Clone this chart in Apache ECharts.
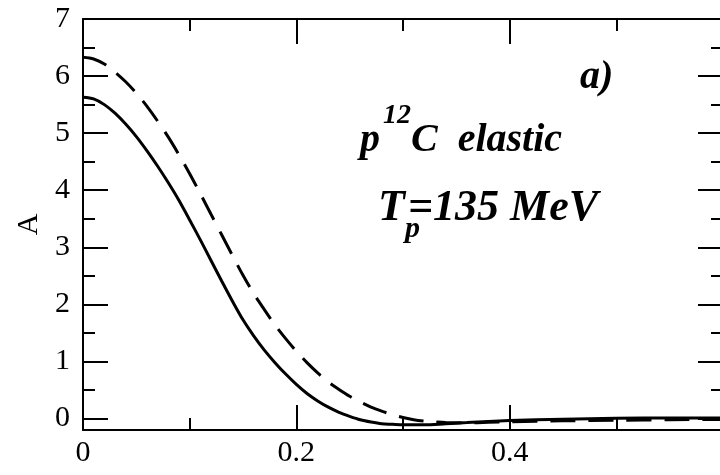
<!DOCTYPE html>
<html>
<head>
<meta charset="utf-8">
<script src="https://cdn.jsdelivr.net/npm/echarts@6/dist/echarts.min.js"></script>
<style>
  html, body { margin: 0; padding: 0; background: #fff; }
  #chart { width: 720px; height: 475px; }
</style>
</head>
<body>
<div id="chart"></div>
<script>
// Momentum transfer grid and amplitudes for the two calculations
const solidX = [0, 0.01, 0.02, 0.03, 0.04, 0.05, 0.06, 0.07, 0.08, 0.09, 0.10, 0.11, 0.12, 0.13, 0.14, 0.15, 0.16, 0.17, 0.18, 0.19, 0.20, 0.21, 0.22, 0.23, 0.24, 0.25, 0.26, 0.27, 0.28, 0.29, 0.30, 0.32, 0.34, 0.36, 0.38, 0.40, 0.45, 0.50, 0.55, 0.60];
const solidY = [5.63, 5.60, 5.50, 5.35, 5.16, 4.94, 4.69, 4.42, 4.13, 3.82, 3.48, 3.13, 2.77, 2.41, 2.06, 1.73, 1.45, 1.20, 0.98, 0.78, 0.60, 0.44, 0.31, 0.20, 0.11, 0.04, -0.02, -0.06, -0.09, -0.10, -0.11, -0.11, -0.09, -0.07, -0.05, -0.035, -0.01, 0.005, 0.01, 0.01];

const dashedX = [0, 0.01, 0.02, 0.03, 0.04, 0.05, 0.06, 0.07, 0.08, 0.09, 0.10, 0.11, 0.12, 0.13, 0.14, 0.15, 0.16, 0.17, 0.18, 0.19, 0.20, 0.21, 0.22, 0.23, 0.24, 0.25, 0.26, 0.27, 0.28, 0.29, 0.30, 0.31, 0.32, 0.33, 0.34, 0.36, 0.38, 0.40, 0.45, 0.50, 0.55, 0.60];
const dashedY = [6.33, 6.30, 6.21, 6.07, 5.90, 5.70, 5.47, 5.21, 4.93, 4.62, 4.29, 3.94, 3.58, 3.22, 2.86, 2.51, 2.19, 1.91, 1.64, 1.40, 1.18, 0.98, 0.80, 0.64, 0.51, 0.39, 0.29, 0.20, 0.13, 0.07, 0.02, -0.02, -0.045, -0.06, -0.07, -0.075, -0.065, -0.055, -0.04, -0.03, -0.02, -0.015];

// Axis ticks
const yMajorTicks = [0, 1, 2, 3, 4, 5, 6, 7];
const yMinorTicks = [0.5, 1.5, 2.5, 3.5, 4.5, 5.5, 6.5];
const xRange = [0, 0.6];
const yRange = [-0.2, 7];

const zip = (xs, ys) => xs.map((x, i) => [x, ys[i]]);

const FONT = '"Liberation Serif", "Times New Roman", serif';
const INK = '#000';

function xAxisDef(pos, showLabels) {
  return {
    type: 'value', position: pos, min: xRange[0], max: xRange[1], interval: 0.2,
    axisLine: { show: true, onZero: false, lineStyle: { color: INK, width: 2 } },
    axisTick: { show: true, inside: true, length: 25, lineStyle: { color: INK, width: 2 } },
    minorTick: { show: true, splitNumber: 2, length: 12, lineStyle: { color: INK, width: 2 } },
    axisLabel: {
      show: showLabels, margin: 8, showMaxLabel: false,
      color: INK, fontFamily: FONT, fontSize: 30
    },
    splitLine: { show: false }, minorSplitLine: { show: false }
  };
}

function yAxisDef(pos, ticks, len, withLine, withLabels) {
  return {
    type: 'value', position: pos, min: yRange[0], max: yRange[1],
    axisLine: { show: withLine, onZero: false, lineStyle: { color: INK, width: 2 } },
    axisTick: { show: true, inside: true, length: len, customValues: ticks, lineStyle: { color: INK, width: 2 } },
    axisLabel: withLabels
      ? { show: true, customValues: yMajorTicks, margin: 13, color: INK, fontFamily: FONT, fontSize: 30 }
      : { show: false },
    splitLine: { show: false }
  };
}

const yLeft = yAxisDef('left', yMajorTicks, 25, true, true);
yLeft.name = 'A';
yLeft.nameLocation = 'middle';
yLeft.nameGap = 38;
yLeft.nameRotate = 90;
yLeft.nameTextStyle = { color: INK, fontFamily: FONT, fontSize: 30 };

function label(text, x, y, size) {
  return {
    type: 'text', x: x, y: y,
    style: {
      text: text, font: 'italic bold ' + size + 'px ' + FONT, fill: INK,
      textAlign: 'left', textVerticalAlign: 'middle', align: 'left', verticalAlign: 'middle'
    }
  };
}

const option = {
  backgroundColor: '#fff',
  animation: false,
  grid: { left: 83, top: 19, width: 640, height: 411, containLabel: false, outerBoundsMode: 'none' },
  xAxis: [xAxisDef('bottom', true), xAxisDef('top', false)],
  yAxis: [
    yLeft,
    yAxisDef('left', yMinorTicks, 12, false, false),
    yAxisDef('right', yMajorTicks, 25, true, false),
    yAxisDef('right', yMinorTicks, 12, false, false)
  ],
  series: [
    {
      type: 'line', xAxisIndex: 0, yAxisIndex: 0, data: zip(solidX, solidY),
      smooth: 0.3, showSymbol: false, symbol: 'none',
      lineStyle: { color: INK, width: 3 }
    },
    {
      type: 'line', xAxisIndex: 0, yAxisIndex: 0, data: zip(dashedX, dashedY),
      smooth: 0.3, showSymbol: false, symbol: 'none',
      lineStyle: { color: INK, width: 3, type: [25, 13] }
    }
  ],
  graphic: [
    label('a)', 580, 78, 40),
    label('p', 360, 141, 40),
    label('12', 383, 116, 28),
    label('C  elastic', 411, 141, 40),
    label('T', 378, 209, 44),
    label('p', 405, 229, 30),
    label('=135 MeV', 408, 209, 44)
  ]
};

const chart = echarts.init(document.getElementById('chart'), null, { renderer: 'canvas' });
chart.setOption(option);
</script>
</body>
</html>
